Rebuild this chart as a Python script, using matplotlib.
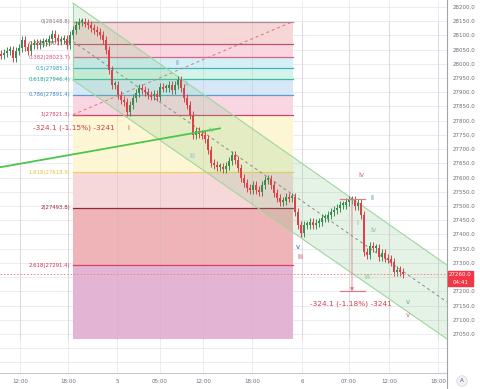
import matplotlib
matplotlib.use('Agg')
import matplotlib.pyplot as plt
from matplotlib.patches import Rectangle
from matplotlib.lines import Line2D
import numpy as np

# closing prices, one candle per bar
closes = [28031, 28038, 28045, 28049, 28021, 28045, 28056, 28084, 28059, 28045,
          28066, 28073, 28066, 28073, 28077, 28077, 28087, 28105, 28091, 28080,
          28084, 28087, 28066, 28102, 28119, 28137, 28147, 28147, 28144, 28137,
          28126, 28119, 28112, 28102, 28084, 28049, 27978, 27926, 27926, 27890,
          27873, 27866, 27831, 27855, 27880, 27897, 27915, 27908, 27901, 27890,
          27887, 27894, 27883, 27919, 27915, 27915, 27926, 27908, 27926, 27943,
          27915, 27880, 27855, 27820, 27750, 27764, 27753, 27750, 27736, 27697,
          27651, 27644, 27637, 27637, 27630, 27641, 27658, 27679, 27662, 27634,
          27599, 27581, 27563, 27556, 27574, 27556, 27549, 27574, 27591, 27595,
          27574, 27546, 27528, 27514, 27518, 27532, 27528, 27532, 27479, 27433,
          27405, 27433, 27433, 27444, 27433, 27440, 27444, 27458, 27458, 27468,
          27479, 27486, 27493, 27504, 27504, 27514, 27521, 27521, 27500, 27511,
          27468, 27338, 27328, 27359, 27352, 27352, 27321, 27335, 27317, 27314,
          27303, 27268, 27275, 27268, 27260]
first_open = 28035
last_price = 27260

time_ticks = [6.3, 22.3, 38.7, 53, 67.3, 83.7, 100.3, 116, 129.3, 145.7]
time_labels = ['12:00', '18:00', '5', '05:00', '12:00', '18:00', '6', '07:00', '12:00', '18:00']
price_ticks = np.arange(26950, 28201, 50)

# fibonacci extension
fib_ratios = ['0', '0.236', '0.382', '0.5', '0.618', '0.786', '1', '1.618', '2', '2.618']
fib_prices = [28148.8, 28071.5, 28023.7, 27985.1, 27946.4, 27891.4, 27821.3, 27618.9, 27493.8, 27291.4]
fib_floor = 27032
fib_x = [24, 97.3]

# parallel channel
chan_x = [24, 148.7]
chan_upper = [28214, 27292]
chan_lower = [27943, 27032]

# green trend line
trend_x = [-1, 73]
trend_y = [27635, 27773]

# measure tools
measure1 = '-324.1 (-1.15%) -3241'
measure2 = '-324.1 (-1.18%) -3241'
m2_top, m2_bottom = 27524, 27200

waves = [('ii', 58.7, 28003, '#6d8fbd'), ('ii', 61.7, 27929, '#8fb3c9'),
         ('i', 42.3, 27774, '#c0506a'), ('iv', 70, 27767, '#7cc5a0'),
         ('iii', 63.7, 27676, '#8fb6d9'), ('v', 99, 27356, '#3a5fa0'),
         ('iii', 99.7, 27321, '#d04a5a'), ('iv', 120.3, 27609, '#d36a7a'),
         ('ii', 123.7, 27528, '#26a69a'), ('i', 118.7, 27440, '#7cc58a'),
         ('iv', 124.3, 27416, '#7cc58a'), ('iii', 122, 27250, '#7cc58a'),
         ('v', 135.7, 27162, '#6aaa8a'), ('v', 135.7, 27117, '#d06a7a')]

fib_line_colors = ['#b08a92', '#c0506a', '#e06090', '#40b0d0', '#30bfa0',
                   '#5b9bd5', '#c84468', '#f0d060', '#902838', '#e04060']
fib_text_colors = ['#8a7a80', '#b04050', '#e0457a', '#2aa0c0', '#20a58a',
                   '#3d85c6', '#d0406a', '#e8c040', '#902838', '#d03050']
fib_band_colors = ['#f6d6d6', '#fad6e1', '#d3f0f5', '#d6f3e8', '#d6e8f7',
                   '#fad6e3', '#fdf6d4', '#f7d8da', '#efb4b7', '#e4b4d5']

fig = plt.figure(figsize=(4.8, 3.89), dpi=100)
ax = fig.add_axes([0, 16 / 389, 447 / 480, 373 / 389])
ax.set_xlim(-1 / 3, 148.67)
ax.set_ylim(26912.6, 28224.6)

# grid
for p in price_ticks:
    ax.axhline(p, color='#e6e9ef', lw=0.6, zorder=0.5)
for t in time_ticks:
    ax.axvline(t, color='#e6e9ef', lw=0.6, zorder=0.5)

# fib bands + levels
band_edges = fib_prices + [fib_floor]
for i in range(len(fib_band_colors)):
    ax.fill_between(fib_x, band_edges[i + 1], band_edges[i],
                    color=fib_band_colors[i], lw=0, zorder=1)
for t in time_ticks:
    ax.plot([t, t], [fib_floor, fib_prices[0]], color='#c8b8b8', lw=0.5, alpha=0.5, zorder=1.1)
for r, p, lc, tc in zip(fib_ratios, fib_prices, fib_line_colors, fib_text_colors):
    ax.plot(fib_x, [p, p], color=lc, lw=0.9, zorder=2)
    ax.text(fib_x[0] - 0.8, p, f'{r}({p})', color=tc, fontsize=3.9,
            ha='right', va='center', zorder=2)
ax.plot(fib_x, [fib_prices[6], fib_prices[0]], color='#e07080', lw=0.7,
        ls=(0, (3, 3)), zorder=2)

# channel
ax.fill_between(chan_x, chan_lower, chan_upper, color='#81c784', alpha=0.2, lw=0, zorder=3)
ax.plot(chan_x, chan_upper, color='#9ed69e', lw=0.8, zorder=3.5)
ax.plot(chan_x, chan_lower, color='#9ed69e', lw=0.8, zorder=3.5)
ax.plot([chan_x[0]] * 2, [chan_lower[0], chan_upper[0]], color='#9ed69e', lw=0.8, zorder=3.5)
chan_mid = [(a + b) / 2 for a, b in zip(chan_upper, chan_lower)]
ax.plot(chan_x, chan_mid, color='#8a8a8a', lw=0.7, ls=(0, (3, 3)), zorder=3.5)

# candles
closes = np.array(closes, dtype=float)
opens = np.concatenate([[first_open], closes[:-1]])
x = np.arange(len(closes))
up = closes >= opens
cols = np.where(up, '#3d8b4f', '#e0404a')
highs = np.maximum(opens, closes) + 13
lows = np.minimum(opens, closes) - 13
ax.vlines(x, lows, highs, colors=cols, lw=0.7, zorder=4)
heights = np.where(np.abs(closes - opens) < 8, np.where(up, 8, -8), closes - opens)
ax.bar(x, heights, bottom=opens, width=0.9, color=cols, lw=0, zorder=4.1)

# trend line
ax.plot(trend_x, trend_y, color='#4cc64c', lw=1.3, zorder=5)

# current price line
ax.axhline(last_price, color='#f08080', lw=0.6, ls=(0, (2, 2)), zorder=5)

# measure tools
ax.plot([24, 27.5], [27821.3, 27821.3], color='#e05060', lw=0.8, zorder=5)
ax.text(24.2, 27774, measure1, color='#c8404f', fontsize=5.3, ha='center', va='center', zorder=6)
ax.plot([113, 121.3], [m2_top, m2_top], color='#e07a8a', lw=0.9, zorder=5)
ax.plot([113, 121.3], [m2_bottom, m2_bottom], color='#e07a8a', lw=0.9, zorder=5)
ax.annotate('', xy=(117, m2_bottom), xytext=(117, m2_top),
            arrowprops=dict(arrowstyle='-|>', color='#e07a8a', lw=0.6,
                            mutation_scale=5, shrinkA=0, shrinkB=0), zorder=5)
ax.text(116.7, 27155, measure2, color='#d0404f', fontsize=5.3, ha='center', va='center', zorder=6)

for txt, wx, wy, c in waves:
    ax.text(wx, wy, txt, color=c, fontsize=5, ha='center', va='center', zorder=6)

# axes styling (27250 sits under the last price tag)
ax.yaxis.tick_right()
ax.set_yticks(price_ticks)
ax.set_yticklabels([f'{p:.1f}' if p >= 27050 and p != 27250 else '' for p in price_ticks])
ax.set_xticks(time_ticks)
ax.set_xticklabels(time_labels)
ax.tick_params(axis='y', length=0, pad=4.2, labelsize=4, labelcolor='#6a6d78')
ax.tick_params(axis='x', length=0, pad=4, labelsize=4, labelcolor='#6a6d78')
for s in ['top', 'left']:
    ax.spines[s].set_visible(False)
ax.spines['right'].set_color('#a0a3ab')
ax.spines['right'].set_linewidth(0.8)
ax.spines['bottom'].set_color('#c8cad0')
ax.spines['bottom'].set_linewidth(0.8)

fig.add_artist(Line2D([447 / 480] * 2, [0, 16 / 389], transform=fig.transFigure,
                      color='#a0a3ab', lw=0.8))

# last price tag
fig.add_artist(Rectangle((448 / 480, (389 - 286) / 389), 25 / 480, 15.5 / 389,
                         transform=fig.transFigure, color='#f23645', zorder=5))
fig.text(460.5 / 480, (389 - 275) / 389, f'{last_price:.1f}', color='white',
         fontsize=4, ha='center', va='center', zorder=6)
fig.text(460.5 / 480, (389 - 282) / 389, '04:41', color='white',
         fontsize=4, ha='center', va='center', zorder=6)

fig.text(462 / 480, (389 - 381) / 389, 'A', color='#50535e', fontsize=4,
         ha='center', va='center',
         bbox=dict(boxstyle='circle,pad=0.5', fc='#f0f3fa', ec='#d1d4dc', lw=0.5))

fig.savefig('out.png', dpi=100)
